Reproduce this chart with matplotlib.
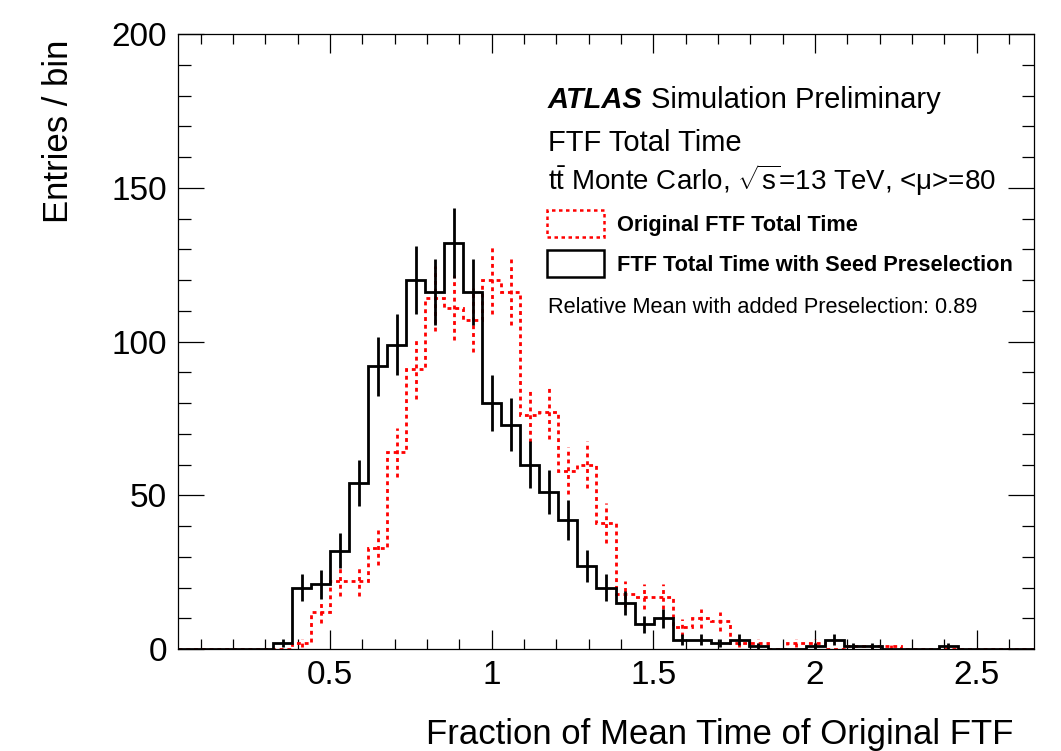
import numpy as np
import matplotlib
matplotlib.use("Agg")
import matplotlib.pyplot as plt
from matplotlib.patches import Patch
from matplotlib.ticker import FixedLocator, MultipleLocator

plt.rcParams['font.family'] = ['Liberation Sans', 'DejaVu Sans']
plt.rcParams['mathtext.fontset'] = 'custom'
plt.rcParams['mathtext.rm'] = 'Liberation Sans'
plt.rcParams['mathtext.it'] = 'Liberation Sans:italic'
plt.rcParams['mathtext.bf'] = 'Liberation Sans:bold'

# binning: 45 bins in fraction of mean time
x_lo = 0.03
x_hi = 2.677
n_bins = 45

# entries per bin
original = [0, 0, 0, 0, 0, 0, 2, 12, 22, 22,
            33, 64, 91, 114, 111, 107, 120, 116, 76, 77,
            58, 60, 41, 18, 17, 17, 7, 10, 9, 2,
            2, 0, 2, 2, 0, 1, 1, 1, 0, 0,
            0, 0, 0, 0, 0]
preselect = [0, 0, 0, 0, 0, 2, 20, 21, 32, 54,
             92, 99, 120, 116, 132, 116, 80, 73, 60, 51,
             42, 27, 20, 15, 8, 10, 3, 3, 2, 3,
             1, 0, 0, 1, 3, 1, 1, 0, 0, 0,
             1, 0, 0, 0, 0]

xtick_vals = [0.5, 1, 1.5, 2, 2.5]
xtick_labels = ["0.5", "1", "1.5", "2", "2.5"]
ytick_vals = [0, 50, 100, 150, 200]
ytick_labels = ["0", "50", "100", "150", "200"]

edges = np.linspace(x_lo, x_hi, n_bins + 1)
centers = 0.5 * (edges[:-1] + edges[1:])
orig = np.array(original, dtype=float)
pres = np.array(preselect, dtype=float)

fig = plt.figure(figsize=(10.61, 7.51), dpi=100)
ax = fig.add_axes([178/1061, 1 - 649/751, 856/1061, 615/751])

red_ls = (0, (1.4, 1.4))

# original (red dotted)
ax.stairs(orig, edges, color='red', lw=2.0, linestyle=red_ls, baseline=None, zorder=2)
m = orig > 0
eb = ax.errorbar(centers[m], orig[m], yerr=np.sqrt(orig[m]), fmt='none',
                 ecolor='red', elinewidth=2.0, capsize=0, zorder=2)
eb[2][0].set_linestyle(red_ls)

# with seed preselection (black)
ax.stairs(pres, edges, color='black', lw=2.0, baseline=None, zorder=3)
m = pres > 0
ax.errorbar(centers[m], pres[m], yerr=np.sqrt(pres[m]), fmt='none',
            ecolor='black', elinewidth=2.0, capsize=0, zorder=3)

ax.set_xlim(x_lo, x_hi)
ax.set_ylim(0, 200)

ax.xaxis.set_major_locator(FixedLocator(xtick_vals))
ax.set_xticklabels(xtick_labels)
ax.xaxis.set_minor_locator(MultipleLocator(0.1))
ax.yaxis.set_major_locator(FixedLocator(ytick_vals))
ax.set_yticklabels(ytick_labels)
ax.yaxis.set_minor_locator(MultipleLocator(10))

for s in ax.spines.values():
    s.set_linewidth(0.9)
ax.tick_params(which='both', direction='in', top=True, right=True, width=0.9,
               labelsize=24)
ax.tick_params(axis='x', which='major', length=13.5, pad=8)
ax.tick_params(axis='x', which='minor', length=7)
ax.tick_params(axis='y', which='major', length=18.5, pad=8)
ax.tick_params(axis='y', which='minor', length=9)

# axis titles, ROOT style (right / top aligned)
fig.text(1013/1061, 1 - 744/751, "Fraction of Mean Time of Original FTF",
         ha='right', va='baseline', fontsize=25)
fig.text(68/1061, 1 - 40/751, "Entries / bin", rotation=90,
         ha='right', va='baseline', fontsize=25, rotation_mode='anchor')

# labels
tx = (548 - 178) / 856
t = ax.text(tx, (649 - 108.3) / 615, "ATLAS", transform=ax.transAxes,
            fontsize=21, fontweight='bold', fontstyle='italic', va='baseline')
ax.annotate("Simulation Preliminary", xy=(1, 0), xycoords=t, xytext=(6, 0),
            textcoords='offset points', fontsize=21, va='bottom')
ax.text(tx, (649 - 150.7) / 615, "FTF Total Time", transform=ax.transAxes,
        fontsize=21, va='baseline')
ax.text(tx, (649 - 190) / 615,
        r"$\mathrm{t\bar{t}}$ Monte Carlo, $\sqrt{\mathrm{s}}$=13 TeV, <μ>=80",
        transform=ax.transAxes, fontsize=20, va='baseline')
ax.text(tx, (649 - 312.7) / 615, "Relative Mean with added Preselection: 0.89",
        transform=ax.transAxes, fontsize=15.7, va='baseline')

handles = [Patch(facecolor='none', edgecolor='red', linestyle=red_ls, lw=1.8,
                 label="Original FTF Total Time"),
           Patch(facecolor='none', edgecolor='black', lw=1.8,
                 label="FTF Total Time with Seed Preselection")]
ax.legend(handles=handles, loc='upper left',
          bbox_to_anchor=((546.7 - 178) / 856, (649 - 210) / 615),
          frameon=False, borderpad=0, borderaxespad=0,
          handlelength=2.61, handleheight=1.53, handletextpad=0.6,
          labelspacing=0.6, prop={'size': 15.7, 'weight': 'bold'})

fig.savefig("out.png", dpi=100)
